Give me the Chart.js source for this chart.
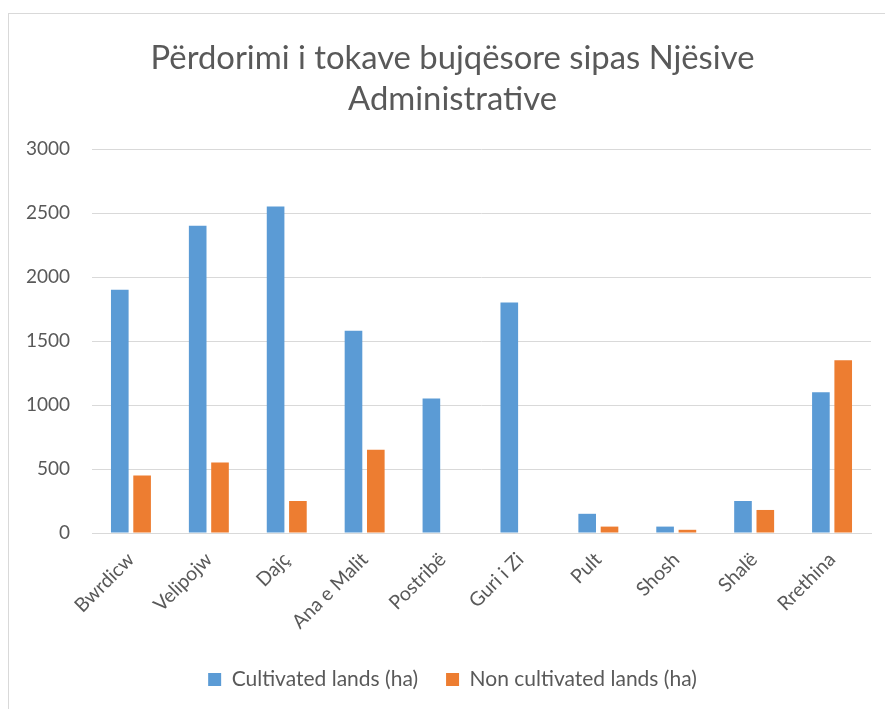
<!DOCTYPE html>
<html>
<head>
<meta charset="utf-8">
<script src="https://cdn.jsdelivr.net/npm/chart.js@4"></script>
<style>
    html, body { margin: 0; background: #fff; overflow: hidden; }
    #wrap { position: relative; width: 885px; height: 709px; overflow: hidden; }
    #frame { position: absolute; left: 8px; top: 13px; width: 900px; height: 720px; border: 1px solid #d9d9d9; box-sizing: border-box; }
    canvas { position: absolute; left: 0; top: 0; }
</style>
</head>
<body>
<div id="wrap">
    <div id="frame"></div>
    <!-- canvas a bit wider than the window so title/legend centre like the original -->
    <canvas id="landChart" width="897" height="709"></canvas>
</div>
<script>
const titleLines = ['Përdorimi i tokave bujqësore sipas Njësive', 'Administrative'];
const units = ['Bwrdicw', 'Velipojw', 'Dajç', 'Ana e Malit', 'Postribë', 'Guri i Zi', 'Pult', 'Shosh', 'Shalë', 'Rrethina'];
const cultivated = [1900, 2400, 2550, 1580, 1050, 1800, 150, 50, 250, 1100];
const nonCultivated = [450, 550, 250, 650, 0, 0, 50, 25, 180, 1350];
const yTicks = [0, 500, 1000, 1500, 2000, 2500, 3000];

const textColor = '#595959';
const gridColor = '#d9d9d9';
const fontFamily = 'Lato, "Open Sans", sans-serif';

const ctx = document.getElementById('landChart').getContext('2d');
const landChart = new Chart(ctx, {
    type: 'bar',
    data: {
        labels: units,
        datasets: [{
            label: 'Cultivated lands (ha)',
            data: cultivated,
            backgroundColor: '#5B9BD5'
        }, {
            label: 'Non cultivated lands (ha)',
            data: nonCultivated,
            backgroundColor: '#ED7D31'
        }]
    },
    options: {
        responsive: false,
        animation: false,
        datasets: {
            bar: { categoryPercentage: 0.573, barPercentage: 0.79 }
        },
        layout: {
            padding: { left: 8, right: 0, top: 13, bottom: 9 }
        },
        scales: {
            y: {
                min: 0,
                max: 3000,
                afterFit: (scale) => { scale.width = 84; },
                afterBuildTicks: (scale) => { scale.ticks = yTicks.map(v => ({ value: v })); },
                grid: { color: gridColor, drawTicks: false },
                border: { display: false },
                ticks: {
                    color: textColor,
                    padding: 22,
                    font: { family: fontFamily, size: 19 },
                    callback: (value) => String(value)
                }
            },
            // empty spacer on the right
            spacer: {
                type: 'linear',
                position: 'right',
                afterFit: (scale) => { scale.width = 26; },
                grid: { drawOnChartArea: false, drawTicks: false },
                border: { display: false },
                ticks: { display: false }
            },
            x: {
                afterFit: (scale) => { scale.height = 108; },
                grid: { display: false },
                border: { color: gridColor },
                ticks: {
                    color: textColor,
                    minRotation: 45,
                    maxRotation: 45,
                    padding: 7,
                    font: { family: fontFamily, size: 19.5 }
                }
            }
        },
        plugins: {
            title: {
                display: true,
                text: titleLines,
                color: textColor,
                padding: { top: 24.5, bottom: 29.5 },
                font: { family: fontFamily, size: 32.8, weight: 'normal', lineHeight: 1.25 }
            },
            legend: {
                position: 'bottom',
                labels: {
                    color: textColor,
                    boxWidth: 13,
                    boxHeight: 13,
                    padding: 28,
                    font: { family: fontFamily, size: 21 }
                }
            },
            tooltip: { enabled: false }
        }
    }
});
</script>
</body>
</html>
